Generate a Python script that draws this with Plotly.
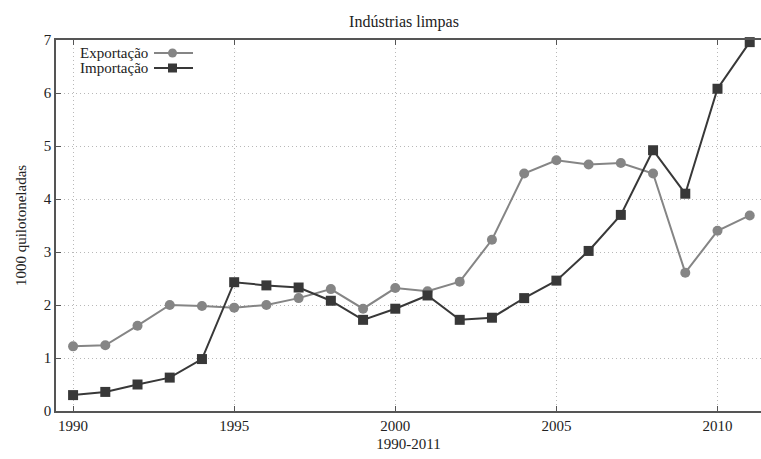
import plotly.graph_objects as go

years = list(range(1990, 2012))
exportacao = [1.22, 1.24, 1.61, 2.00, 1.98, 1.95, 2.00, 2.13, 2.30, 1.93, 2.32, 2.26,
              2.44, 3.23, 4.48, 4.73, 4.65, 4.68, 4.48, 2.61, 3.40, 3.69]
importacao = [0.30, 0.36, 0.50, 0.63, 0.98, 2.43, 2.37, 2.33, 2.08, 1.72, 1.93, 2.18,
              1.72, 1.76, 2.13, 2.46, 3.02, 3.70, 4.92, 4.10, 6.08, 6.96]
x_ticks = [1990, 1995, 2000, 2005, 2010]
y_ticks = [0, 1, 2, 3, 4, 5, 6, 7]

FONT = "Liberation Serif"
C_EXP = "#858585"
C_IMP = "#383838"

fig = go.Figure()
fig.add_trace(go.Scatter(x=years, y=exportacao, mode="lines+markers", name="Exportação",
                         line=dict(color=C_EXP, width=2),
                         marker=dict(symbol="circle", size=10, color=C_EXP),
                         cliponaxis=False, showlegend=False))
fig.add_trace(go.Scatter(x=years, y=importacao, mode="lines+markers", name="Importação",
                         line=dict(color=C_IMP, width=2),
                         marker=dict(symbol="square", size=10, color=C_IMP),
                         cliponaxis=False, showlegend=False))

H = 459
W = 761
L, R, T, B = 56, 0, 40, 48
pw, ph = W - L - R, H - T - B

def px2x(px):
    return (px - L) / pw

def py2y(py):
    return 1 - (py - T) / ph

# custom legend (text left of sample, as in the reference)
legend_items = [("Exportação", C_EXP, "circle", 53), ("Importação", C_IMP, "rect", 68)]
for label, col, sym, py in legend_items:
    fig.add_annotation(x=px2x(150), y=py2y(py), xref="paper", yref="paper",
                       text=label, showarrow=False, xanchor="right", yanchor="middle",
                       font=dict(family=FONT, size=15, color="#222"))
    fig.add_shape(type="line", xref="paper", yref="paper",
                  x0=px2x(154), x1=px2x(193), y0=py2y(py), y1=py2y(py),
                  line=dict(color=col, width=2))
    fig.add_shape(type="circle" if sym == "circle" else "rect", xref="paper", yref="paper",
                  x0=px2x(168), x1=px2x(177), y0=py2y(py + 4.5), y1=py2y(py - 4.5),
                  fillcolor=col, line=dict(color=col, width=0))

fig.update_layout(
    width=W, height=H,
    margin=dict(l=L, r=R, t=T, b=B, autoexpand=False),
    paper_bgcolor="white", plot_bgcolor="white",
    title=dict(text="Indústrias limpas", x=404 / W, xanchor="center",
               y=1 - 21 / H, yanchor="middle",
               font=dict(family=FONT, size=16, color="#222")),
    font=dict(family=FONT, size=15, color="#222"),
)
fig.update_xaxes(range=[1989.47, 2011.35], tickvals=x_ticks, ticktext=[str(t) for t in x_ticks],
                 showgrid=True, gridcolor="#b8b8b8", griddash="1px,3px", gridwidth=1,
                 showline=True, linecolor="#555", linewidth=1.5, mirror="ticks",
                 ticks="inside", ticklen=5, tickcolor="#555",
                 zeroline=False, automargin=False,
                 title=dict(text="1990-2011", font=dict(family=FONT, size=15), standoff=6),
                 tickfont=dict(family=FONT, size=15))
fig.update_yaxes(range=[0, 7], tickvals=y_ticks,
                 showgrid=True, gridcolor="#b8b8b8", griddash="1px,3px", gridwidth=1,
                 showline=True, linecolor="#555", linewidth=1.5,
                 ticks="inside", ticklen=5, tickcolor="#555",
                 zeroline=False, automargin=False,
                 title=dict(text="1000 quilotoneladas", font=dict(family=FONT, size=15), standoff=14),
                 tickfont=dict(family=FONT, size=15))

fig.write_html("out.html", config={"displayModeBar": False},
               post_script="document.body.style.margin='0';document.body.style.overflow='hidden';")
